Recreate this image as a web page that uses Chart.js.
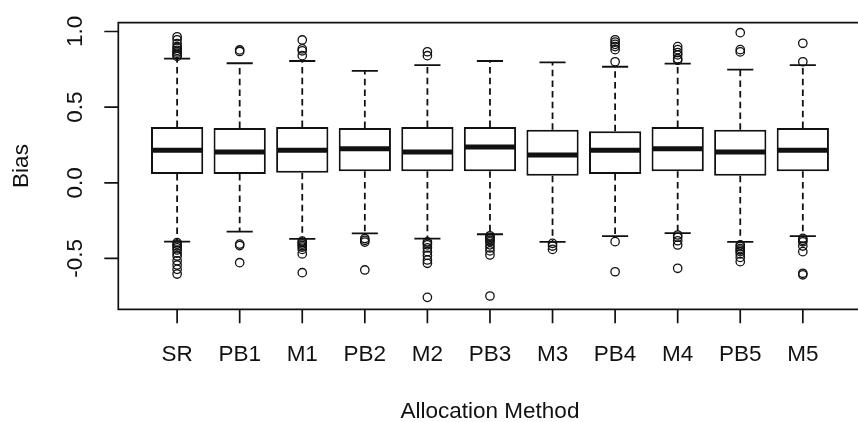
<!DOCTYPE html>
<html>
<head>
<meta charset="utf-8">
<script src="https://cdn.jsdelivr.net/npm/chart.js@4.4.1/dist/chart.umd.min.js"></script>
<style>
  html, body { margin: 0; padding: 0; background: #ffffff; overflow: hidden; }
  #wrap { width: 858px; height: 422px; }
</style>
</head>
<body>
<div id="wrap"><canvas id="chart" width="858" height="422"></canvas></div>
<script>
// Allocation methods, one box per method
const categories = ['SR', 'PB1', 'M1', 'PB2', 'M2', 'PB3', 'M3', 'PB4', 'M4', 'PB5', 'M5'];

// Five-number summaries of the bias for each method
const lowerWhisker = [-0.389, -0.323, -0.371, -0.334, -0.369, -0.340, -0.391, -0.352, -0.332, -0.391, -0.352];
const q1 =           [ 0.058,  0.058,  0.067,  0.076,  0.076,  0.076,  0.047,  0.058,  0.076,  0.047,  0.076];
const medians =      [ 0.215,  0.204,  0.215,  0.225,  0.204,  0.237,  0.184,  0.215,  0.225,  0.204,  0.215];
const q3 =           [ 0.369,  0.362,  0.369,  0.362,  0.369,  0.369,  0.351,  0.340,  0.369,  0.351,  0.362];
const upperWhisker = [ 0.820,  0.790,  0.805,  0.739,  0.777,  0.805,  0.796,  0.767,  0.787,  0.748,  0.777];

// Points beyond the whiskers
const outliers = [
  [0.965, 0.945, 0.92, 0.90, 0.89, 0.875, 0.865, 0.855, 0.845, 0.835,
   -0.395, -0.405, -0.418, -0.43, -0.444, -0.465, -0.484, -0.515, -0.543, -0.572, -0.603],
  [0.878, 0.868, -0.405, -0.415, -0.528],
  [0.944, 0.885, 0.872, 0.84, -0.385, -0.395, -0.405, -0.415, -0.425, -0.44, -0.47, -0.594],
  [-0.368, -0.38, -0.392, -0.576],
  [0.866, 0.84, -0.39, -0.40, -0.41, -0.43, -0.455, -0.48, -0.51, -0.532, -0.757],
  [-0.35, -0.36, -0.37, -0.38, -0.39, -0.41, -0.43, -0.45, -0.477, -0.748],
  [-0.40, -0.418, -0.44],
  [0.945, 0.93, 0.915, 0.90, 0.88, 0.80, -0.389, -0.588],
  [0.90, 0.88, 0.86, 0.845, 0.82, 0.81, -0.345, -0.36, -0.383, -0.411, -0.565],
  [0.992, 0.88, 0.865, -0.41, -0.422, -0.435, -0.445, -0.455, -0.47, -0.493, -0.521],
  [0.922, 0.80, -0.367, -0.38, -0.39, -0.418, -0.455, -0.598, -0.608]
];

// Axis ticks and titles
const yTickValues = [-0.5, 0, 0.5, 1.0];
const yTickLabels = ['-0.5', '0.0', '0.5', '1.0'];
const xTitle = 'Allocation Method';
const yTitle = 'Bias';

const INK = '#111111';
const FONT = '22.5px "Liberation Sans", Arial, sans-serif';
const X_MIN = 0.06, X_MAX_FULL = 11.94;

// Whiskers with dashed stems and staples, drawn under the boxes
const whiskerPlugin = {
  id: 'whiskers',
  beforeDatasetsDraw(chart) {
    const { ctx, scales: { x, y } } = chart;
    const boxes = chart.getDatasetMeta(0).data;
    ctx.save();
    ctx.strokeStyle = INK;
    ctx.lineWidth = 1.8;
    categories.forEach((c, i) => {
      const px = x.getPixelForValue(i + 1);
      const half = boxes[i].width / 2;
      ctx.setLineDash([6.5, 4.2]);
      ctx.beginPath();
      ctx.moveTo(px, y.getPixelForValue(q3[i]));
      ctx.lineTo(px, y.getPixelForValue(upperWhisker[i]));
      ctx.moveTo(px, y.getPixelForValue(q1[i]));
      ctx.lineTo(px, y.getPixelForValue(lowerWhisker[i]));
      ctx.stroke();
      ctx.setLineDash([]);
      ctx.beginPath();
      const capHalf = half / 2;
      ctx.moveTo(px - capHalf, y.getPixelForValue(upperWhisker[i]));
      ctx.lineTo(px + capHalf, y.getPixelForValue(upperWhisker[i]));
      ctx.moveTo(px - capHalf, y.getPixelForValue(lowerWhisker[i]));
      ctx.lineTo(px + capHalf, y.getPixelForValue(lowerWhisker[i]));
      ctx.stroke();
    });
    ctx.restore();
  },
  afterDatasetsDraw(chart) {
    // thick median bars across each box
    const { ctx, scales: { x, y } } = chart;
    const boxes = chart.getDatasetMeta(0).data;
    ctx.save();
    ctx.strokeStyle = INK;
    ctx.lineWidth = 5;
    ctx.lineCap = 'butt';
    categories.forEach((c, i) => {
      const px = x.getPixelForValue(i + 1);
      const half = boxes[i].width / 2;
      const py = y.getPixelForValue(medians[i]);
      ctx.beginPath();
      ctx.moveTo(px - half + 1, py);
      ctx.lineTo(px + half - 1, py);
      ctx.stroke();
    });
    ctx.restore();
  }
};

// Plot frame, tick marks, tick labels and axis titles
const framePlugin = {
  id: 'frame',
  afterDraw(chart) {
    const { ctx, chartArea: a, scales: { x, y } } = chart;
    const rightFull = x.getPixelForValue(X_MAX_FULL);
    ctx.save();
    ctx.strokeStyle = INK;
    ctx.fillStyle = INK;
    ctx.lineWidth = 1.7;
    ctx.beginPath();
    ctx.moveTo(rightFull, a.top);
    ctx.lineTo(a.left, a.top);
    ctx.lineTo(a.left, a.bottom);
    ctx.lineTo(rightFull, a.bottom);
    ctx.stroke();

    // y ticks
    ctx.beginPath();
    yTickValues.forEach(v => {
      const py = y.getPixelForValue(v);
      ctx.moveTo(a.left - 14, py);
      ctx.lineTo(a.left, py);
    });
    // x ticks
    categories.forEach((c, i) => {
      const px = x.getPixelForValue(i + 1);
      ctx.moveTo(px, a.bottom);
      ctx.lineTo(px, a.bottom + 14);
    });
    ctx.stroke();

    ctx.font = FONT;
    ctx.textAlign = 'center';
    ctx.textBaseline = 'alphabetic';
    categories.forEach((c, i) => {
      ctx.fillText(c, x.getPixelForValue(i + 1), a.bottom + 51.5);
    });
    const midX = (x.getPixelForValue(X_MIN) + rightFull) / 2;
    ctx.fillText(xTitle, midX, a.bottom + 109);

    // rotated y labels
    yTickValues.forEach((v, k) => {
      ctx.save();
      ctx.translate(a.left - 36.5, y.getPixelForValue(v));
      ctx.rotate(-Math.PI / 2);
      ctx.fillText(yTickLabels[k], 0, 0);
      ctx.restore();
    });
    ctx.save();
    ctx.translate(28.3, (a.top + a.bottom) / 2);
    ctx.rotate(-Math.PI / 2);
    ctx.fillText(yTitle, 0, 0);
    ctx.restore();
    ctx.restore();
  }
};

const boxData = categories.map((c, i) => ({ x: i + 1, y: [q1[i], q3[i]] }));
const outlierData = [];
outliers.forEach((list, i) => list.forEach(v => outlierData.push({ x: i + 1, y: v })));

new Chart(document.getElementById('chart'), {
  type: 'bar',
  data: {
    datasets: [
      {
        type: 'bar',
        data: boxData,
        backgroundColor: '#ffffff',
        borderColor: INK,
        borderWidth: 2,
        borderSkipped: false,
        barPercentage: 0.835,
        categoryPercentage: 1,
        order: 2
      },
      {
        type: 'scatter',
        data: outlierData,
        pointStyle: 'circle',
        pointRadius: 4.2,
        pointBorderWidth: 1.3,
        pointBackgroundColor: 'rgba(0,0,0,0)',
        pointBorderColor: INK,
        showLine: false,
        order: 1
      }
    ]
  },
  options: {
    responsive: false,
    animation: false,
    devicePixelRatio: 1,
    layout: { padding: { left: 118.3, top: 22.7, right: 0, bottom: 112.7 } },
    plugins: { legend: { display: false }, tooltip: { enabled: false } },
    scales: {
      x: {
        type: 'linear',
        display: false,
        offset: false,
        min: X_MIN,
        max: 11.794,
        afterBuildTicks: s => { s.ticks = categories.map((c, i) => ({ value: i + 1 })); }
      },
      y: {
        type: 'linear',
        display: false,
        min: -0.836,
        max: 1.058
      }
    }
  },
  plugins: [whiskerPlugin, framePlugin]
});
</script>
</body>
</html>
